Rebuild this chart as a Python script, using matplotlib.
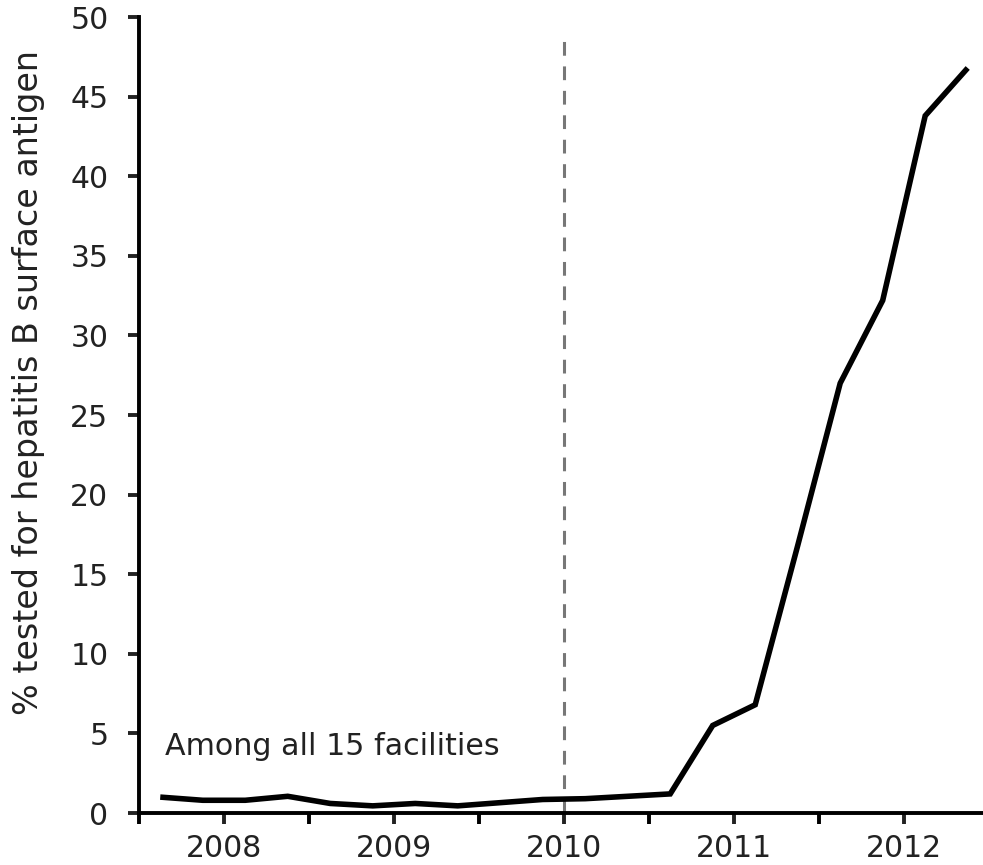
import matplotlib
matplotlib.use("Agg")
import matplotlib.pyplot as plt

plt.rcParams['font.family'] = ['DejaVu Sans']

# Quarterly data (quarter midpoints)
quarters = [2007.625, 2007.875, 2008.125, 2008.375, 2008.625, 2008.875,
            2009.125, 2009.375, 2009.625, 2009.875, 2010.125, 2010.375,
            2010.625, 2010.875, 2011.125, 2011.375, 2011.625, 2011.875,
            2012.125, 2012.375]
pct_tested = [1.0, 0.8, 0.8, 1.05, 0.6, 0.45,
              0.6, 0.45, 0.65, 0.85, 0.9, 1.05,
              1.2, 5.5, 6.8, 16.8, 27.0, 32.2,
              43.8, 46.8]
year_ticks = [2008, 2009, 2010, 2011, 2012]
year_labels = ['2008', '2009', '2010', '2011', '2012']
minor_ticks = [2007.5, 2008.5, 2009.5, 2010.5, 2011.5]
y_ticks = [0, 5, 10, 15, 20, 25, 30, 35, 40, 45, 50]
intervention_year = 2010
annotation = "Among all 15 facilities"
ylabel = "% tested for hepatitis B surface antigen"

fig = plt.figure(figsize=(9.83, 8.65), dpi=100)
ax = fig.add_axes([0.1414, 0.0601, 0.8586, 0.9202])

ax.plot(quarters, pct_tested, color='black', lw=4.0, solid_joinstyle='miter',
        solid_capstyle='butt', zorder=3)
ax.plot([intervention_year, intervention_year], [0, 48.9], color='#777777',
        lw=2.2, dashes=(4.5, 3.5), zorder=2)

ax.set_xlim(2007.5, 2012.465)
ax.set_ylim(0, 50)
ax.set_yticks(y_ticks)
ax.set_xticks(year_ticks)
ax.set_xticklabels(year_labels)
ax.set_xticks(minor_ticks, minor=True)

for s in ['top', 'right']:
    ax.spines[s].set_visible(False)
for s in ['left', 'bottom']:
    ax.spines[s].set_linewidth(2.8)
    ax.spines[s].set_color('black')

ax.tick_params(axis='both', which='both', direction='out', length=8, width=2.8,
               color='black')
ax.tick_params(axis='both', labelsize=21.5, colors='#222222')
ax.tick_params(axis='y', pad=14)
ax.tick_params(axis='x', pad=7)

ax.set_ylabel(ylabel, fontsize=24, color='#222222')
ax.yaxis.label.set_verticalalignment('center')
ax.yaxis.set_label_coords(-0.131, 0.541)

ax.text(2007.653, 3.64, annotation, fontsize=21.7, color='#222222')

fig.savefig('out.png', dpi=100)
